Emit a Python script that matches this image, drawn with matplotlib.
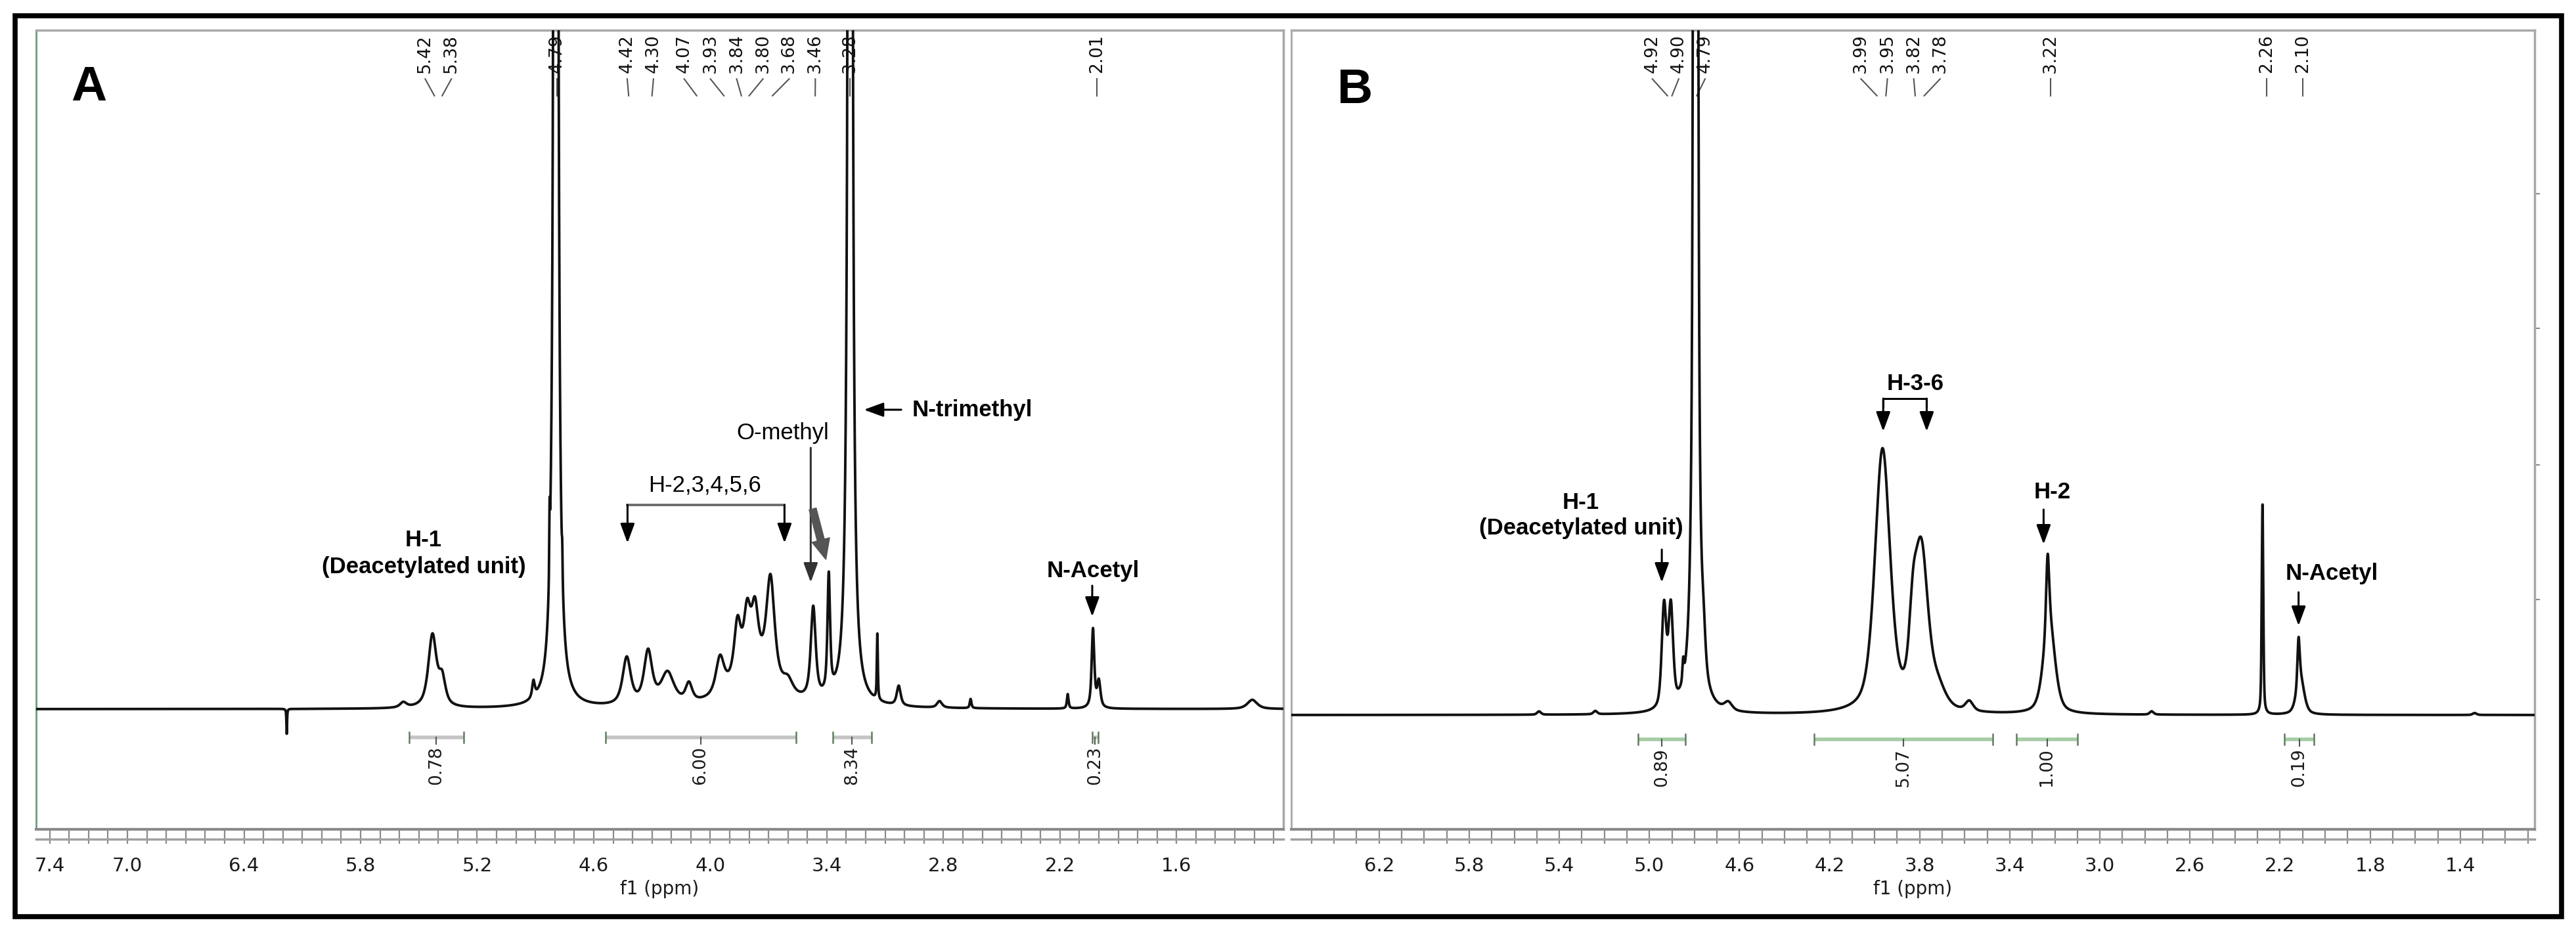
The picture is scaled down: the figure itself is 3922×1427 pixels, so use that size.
import numpy as np
import matplotlib.pyplot as plt
from matplotlib.patches import Rectangle
from matplotlib.transforms import blended_transform_factory

plt.rcParams['font.family'] = ['DejaVu Sans']

# ---- panel A: peak list (ppm, height above baseline, half width)
a_ppm = [6.18, 5.58, 5.43, 5.38, 4.91, 4.827, 4.795, 4.762, 4.43, 4.32, 4.22, 4.11,
         3.95, 3.86, 3.81, 3.77, 3.78, 3.69, 3.60, 3.47, 3.39, 3.28, 3.14, 3.03,
         2.82, 2.66, 2.16, 2.03, 2.00, 1.21]
a_height = [-38, 8, 110, 40, 25, 90, 9000, 40, 72, 80, 48, 28,
            55, 80, 80, 80, 62, 155, 20, 140, 180, 9000, 100, 30,
            10, 14, 22, 120, 40, 14]
a_width = [0.002, 0.02, 0.025, 0.02, 0.008, 0.002, 0.006, 0.002, 0.025, 0.025, 0.04, 0.02,
           0.025, 0.02, 0.02, 0.02, 0.12, 0.025, 0.03, 0.015, 0.008, 0.006, 0.003, 0.012,
           0.015, 0.005, 0.005, 0.008, 0.01, 0.03]
a_shift_labels = [5.42, 5.38, 4.79, 4.42, 4.30, 4.07, 3.93, 3.84, 3.80, 3.68, 3.46, 3.28, 2.01]
a_int_start = [5.55, 4.54, 3.37, 2.035]
a_int_end = [5.27, 3.56, 3.17, 2.005]
a_int_value = ['0.78', '6.00', '8.34', '0.23']
a_ticks = [7.4, 7.0, 6.4, 5.8, 5.2, 4.6, 4.0, 3.4, 2.8, 2.2, 1.6]
a_tick_labels = ['7.4', '7.0', '6.4', '5.8', '5.2', '4.6', '4.0', '3.4', '2.8', '2.2', '1.6']

# ---- panel B
b_ppm = [5.49, 5.24, 4.935, 4.905, 4.85, 4.795, 4.76, 4.65, 3.965, 3.83, 3.793, 3.72,
         3.58, 3.225, 3.232, 2.77, 2.278, 2.118, 2.11, 1.336]
b_height = [5, 5, 155, 150, 30, 9000, 50, 12, 400, 90, 240, 30,
            15, 140, 110, 5, 320, 70, 55, 3]
b_width = [0.01, 0.01, 0.012, 0.012, 0.004, 0.006, 0.01, 0.02, 0.04, 0.02, 0.035, 0.04,
           0.02, 0.03, 0.008, 0.01, 0.004, 0.006, 0.02, 0.01]
b_shift_labels = [4.92, 4.90, 4.79, 3.99, 3.95, 3.82, 3.78, 3.22, 2.26, 2.10]
b_int_start = [5.05, 4.27, 3.37, 2.18]
b_int_end = [4.84, 3.475, 3.10, 2.05]
b_int_value = ['0.89', '5.07', '1.00', '0.19']
b_ticks = [6.2, 5.8, 5.4, 5.0, 4.6, 4.2, 3.8, 3.4, 3.0, 2.6, 2.2, 1.8, 1.4]
b_tick_labels = ['6.2', '5.8', '5.4', '5.0', '4.6', '4.2', '3.8', '3.4', '3.0', '2.6', '2.2', '1.8', '1.4']

W, H = 3923, 1427
fig = plt.figure(figsize=(W / 100, H / 100), dpi=100)


def add_axes_px(x0, y0, x1, y1):
    return fig.add_axes([x0 / W, 1 - y1 / H, (x1 - x0) / W, (y1 - y0) / H])


def spectrum(x, ppm, height, width, eta):
    y = np.zeros_like(x)
    for p, h, w in zip(ppm, height, width):
        d = (x - p) / w
        y += h * (eta / (1 + d ** 2) + (1 - eta) * np.exp(-np.log(2) * d ** 2))
    return y


def spread(ppm_list, d):
    # push overlapping shift labels apart, each group centred on its peaks
    clusters = [[-p] for p in sorted(ppm_list, reverse=True)]

    def layout(c):
        m = sum(c) / len(c)
        return [m - d * (len(c) - 1) / 2 + d * i for i in range(len(c))]

    merged = True
    while merged:
        merged = False
        for i in range(len(clusters) - 1):
            if layout(clusters[i + 1])[0] - layout(clusters[i])[-1] < d - 1e-9:
                clusters[i] = clusters[i] + clusters.pop(i + 1)
                merged = True
                break
    out = []
    for c in clusters:
        out += layout(c)
    return [-v for v in out]


def draw_panel(ax, xlim, ylim, ppm, height, width, eta, labels, lab_sp,
               i_start, i_end, i_val, bar_y, bar_col, ticks, tick_labels, left_col):
    x = np.linspace(xlim[1], xlim[0], 40000)
    ax.plot(x, spectrum(x, ppm, height, width, eta), color='#111111', lw=2.8, zorder=4)
    ax.set_xlim(*xlim)
    ax.set_ylim(*ylim)

    for side in ['top', 'right']:
        ax.spines[side].set_color('#a8a8a8')
        ax.spines[side].set_linewidth(2.5)
    ax.spines['left'].set_color(left_col)
    ax.spines['left'].set_linewidth(2.0)
    ax.spines['bottom'].set_color('#8a8a8a')
    ax.spines['bottom'].set_linewidth(3)
    ax.plot([0, 1], [-0.012, -0.012], transform=ax.transAxes, clip_on=False,
            color='#a0a0a0', lw=2.5)

    ax.set_xticks(ticks)
    ax.set_xticklabels(tick_labels)
    ax.set_xticks(np.round(np.arange(np.ceil(xlim[1] * 10), np.floor(xlim[0] * 10) + 1) / 10, 1),
                  minor=True)
    ax.tick_params(axis='x', which='both', direction='out', length=16, width=1.6,
                   color='#8a8a8a', labelsize=21, labelcolor='#1a1a1a', pad=14)
    ax.set_yticks([])
    ax.set_xlabel('f1 (ppm)', fontsize=20, color='#1a1a1a', labelpad=5)

    # chemical shift labels along the top
    tr = blended_transform_factory(ax.transData, ax.transAxes)
    actual = sorted(labels, reverse=True)
    placed = spread(labels, lab_sp)
    for p, q in zip(actual, placed):
        ax.text(q, 0.995, '%.2f' % p, rotation=90, ha='center', va='top', fontsize=19,
                color='#111111', transform=tr, zorder=3)
        ax.plot([q, p], [0.939, 0.918], color='#555555', lw=1.5, transform=tr, zorder=3)

    # integration bars
    for s, e, v in zip(i_start, i_end, i_val):
        m = (s + e) / 2
        ax.plot([s, e], [bar_y, bar_y], color=bar_col, lw=4, solid_capstyle='butt')
        ax.plot([s, s], [bar_y - 8, bar_y + 8], color='#5e7e5e', lw=1.8)
        ax.plot([e, e], [bar_y - 8, bar_y + 8], color='#5e7e5e', lw=1.8)
        ax.plot([m, m], [bar_y, bar_y - 10], color='#555555', lw=1.5)
        ax.text(m, bar_y - 43, v, rotation=90, ha='center', va='center', fontsize=19,
                color='#1a1a1a')


def arrow_down(ax, x, y0, y1, col='black'):
    ax.annotate('', xy=(x, y1), xytext=(x, y0),
                arrowprops=dict(arrowstyle='-|>,head_length=0.6,head_width=0.22',
                                mutation_scale=30, color=col, lw=2.2,
                                shrinkA=0, shrinkB=0), zorder=5)


axA = add_axes_px(55, 46, 1954, 1263)
axB = add_axes_px(1966, 46, 3859, 1263)

draw_panel(axA, (7.47, 1.05), (-183, 1034), a_ppm, a_height, a_width, 0.75,
           a_shift_labels, 0.135, a_int_start, a_int_end, a_int_value, -43, '#c4c4c4',
           a_ticks, a_tick_labels, '#6a9f7a')
draw_panel(axB, (6.59, 1.07), (-174, 1043), b_ppm, b_height, b_width, 0.5,
           b_shift_labels, 0.117, b_int_start, b_int_end, b_int_value, -37, '#a6cca6',
           b_ticks, b_tick_labels, '#a8a8a8')

axB.yaxis.tick_right()
axB.set_yticks([176, 381, 589, 794])
axB.set_yticklabels([])
axB.tick_params(axis='y', direction='out', length=6, width=1.5, color='#8a8a8a')

font_a = dict(family=['Liberation Sans', 'DejaVu Sans'], fontsize=25, color='black')

# ---- annotations, panel A
axA.text(5.476, 237, 'H-1\n(Deacetylated unit)', ha='center', va='center',
         fontweight='bold', linespacing=1.3, zorder=5, **font_a)
axA.text(4.027, 341, 'H-2,3,4,5,6', ha='center', va='center', zorder=5, **font_a)
axA.plot([4.426, 3.618], [311, 311], color='#666666', lw=2.6, zorder=5)
arrow_down(axA, 4.426, 311, 253)
arrow_down(axA, 3.618, 311, 253)
axA.text(3.628, 421, 'O-methyl', ha='center', va='center', zorder=5, **font_a)
arrow_down(axA, 3.483, 398, 193, col='#333333')
axA.annotate('', xy=(3.405, 228), xytext=(3.473, 305),
             arrowprops=dict(arrowstyle='simple,head_length=1.1,head_width=1.0,tail_width=0.4',
                             mutation_scale=20, color='#555555', shrinkA=0, shrinkB=0),
             zorder=5)
axA.text(2.963, 456, 'N-trimethyl', ha='left', va='center', fontweight='bold', zorder=5, **font_a)
axA.annotate('', xy=(3.209, 456), xytext=(3.017, 456),
             arrowprops=dict(arrowstyle='-|>,head_length=0.6,head_width=0.22',
                             mutation_scale=30, color='black', lw=2.2,
                             shrinkA=0, shrinkB=0), zorder=5)
axA.text(2.030, 211, 'N-Acetyl', ha='center', va='center', fontweight='bold', zorder=5, **font_a)
arrow_down(axA, 2.034, 188, 141)

# ---- annotations, panel B
axB.text(5.304, 304, 'H-1\n(Deacetylated unit)', ha='center', va='center',
         fontweight='bold', linespacing=1.2, zorder=5, **font_a)
arrow_down(axB, 4.945, 252, 202)
axB.text(3.819, 505, 'H-3-6', ha='center', va='center', fontweight='bold', zorder=5, **font_a)
axB.plot([3.962, 3.962, 3.769, 3.769], [470, 482, 482, 470], color='black', lw=2.2, zorder=5)
arrow_down(axB, 3.962, 482, 432)
arrow_down(axB, 3.769, 482, 432)
axB.text(3.212, 340, 'H-2', ha='center', va='center', fontweight='bold', zorder=5, **font_a)
arrow_down(axB, 3.250, 313, 260)
axB.text(1.969, 216, 'N-Acetyl', ha='center', va='center', fontweight='bold', zorder=5, **font_a)
arrow_down(axB, 2.118, 187, 136)

# panel letters
fig.text(108 / W, 1 - 153 / H, 'A', fontsize=54, fontweight='bold',
         family=['Liberation Sans', 'DejaVu Sans'], va='baseline')
fig.text(2036 / W, 1 - 157 / H, 'B', fontsize=54, fontweight='bold',
         family=['Liberation Sans', 'DejaVu Sans'], va='baseline')

# outer frame
fig.add_artist(Rectangle((23 / W, 1 - 1396 / H), (3900 - 23) / W, (1396 - 24) / H,
                         transform=fig.transFigure, fill=False, lw=5.5, ec='black'))

fig.savefig('out.png', dpi=100)
